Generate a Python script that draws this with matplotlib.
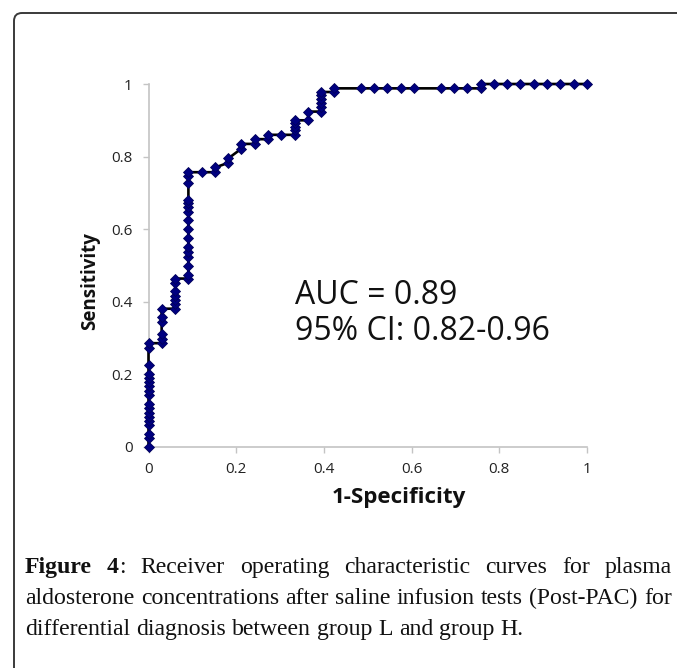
import matplotlib
matplotlib.use('Agg')
import matplotlib.pyplot as plt
from matplotlib.patches import FancyBboxPatch
from matplotlib.transforms import IdentityTransform

# ---------------- data ----------------
fpr = [0.000, 0.000, 0.000, 0.000, 0.000, 0.000, 0.000, 0.000, 0.000,
       0.000, 0.000, 0.000, 0.000, 0.000, 0.000, 0.000, 0.000, 0.000,
       0.030, 0.030, 0.030, 0.030, 0.030, 0.030,
       0.061, 0.061, 0.061, 0.061, 0.061, 0.061, 0.061,
       0.091, 0.091, 0.091, 0.091, 0.091, 0.091, 0.091, 0.091,
       0.091, 0.091, 0.091, 0.091, 0.091, 0.091, 0.091, 0.091,
       0.121,
       0.152, 0.152,
       0.182, 0.182,
       0.212, 0.212,
       0.242, 0.242,
       0.273, 0.273,
       0.303,
       0.333, 0.333, 0.333, 0.333, 0.333,
       0.364, 0.364,
       0.394, 0.394, 0.394, 0.394, 0.394, 0.394,
       0.424, 0.424,
       0.485, 0.515, 0.545, 0.576, 0.606, 0.667, 0.697, 0.727, 0.758,
       0.758, 0.788, 0.818, 0.848, 0.879, 0.909, 0.939, 0.970, 1.000]
tpr = [0.000, 0.024, 0.036, 0.060, 0.071, 0.083, 0.095, 0.107, 0.119,
       0.143, 0.155, 0.167, 0.179, 0.190, 0.202, 0.226, 0.274, 0.286,
       0.286, 0.298, 0.310, 0.345, 0.357, 0.381,
       0.381, 0.393, 0.405, 0.417, 0.429, 0.452, 0.464,
       0.464, 0.474, 0.500, 0.524, 0.536, 0.552, 0.575, 0.600,
       0.625, 0.648, 0.662, 0.671, 0.680, 0.726, 0.746, 0.757,
       0.757,
       0.757, 0.770,
       0.783, 0.795,
       0.822, 0.835,
       0.835, 0.848,
       0.848, 0.860,
       0.860,
       0.860, 0.872, 0.882, 0.892, 0.900,
       0.900, 0.924,
       0.924, 0.936, 0.948, 0.958, 0.970, 0.978,
       0.978, 0.988,
       0.988, 0.988, 0.988, 0.988, 0.988, 0.988, 0.988, 0.988, 0.988,
       1.000, 1.000, 1.000, 1.000, 1.000, 1.000, 1.000, 1.000, 1.000]

tick_values = [0, 0.2, 0.4, 0.6, 0.8, 1]
tick_labels = ['0', '0.2', '0.4', '0.6', '0.8', '1']

x_label = '1-Specificity'
y_label = 'Sensitivity'
auc_lines = ['AUC = 0.89', '95% CI: 0.82-0.96']

caption_lines = [
    [[('Figure', 'bold')], [('4', 'bold'), (':', 'normal')], [('Receiver', 'normal')],
     [('operating', 'normal')], [('characteristic', 'normal')], [('curves', 'normal')],
     [('for', 'normal')], [('plasma', 'normal')]],
    [[(w, 'normal')] for w in 'aldosterone concentrations after saline infusion tests (Post-PAC) for'.split()],
    [[(w, 'normal')] for w in 'differential diagnosis between group L and group H.'.split()],
]

# ---------------- figure ----------------
W, H = 677, 668
fig = plt.figure(figsize=(W / 100, H / 100), dpi=100)
fig.patch.set_facecolor('white')
renderer = fig.canvas.get_renderer()

def px(x, y):
    return x / W, 1 - y / H

def text_width(text, size, family, weight='normal'):
    t = fig.text(0, 0, text, fontsize=size, family=family, fontweight=weight)
    w = t.get_window_extent(renderer).width
    t.remove()
    return w

def fit_size(text, target, family, weight='normal'):
    return 12 * target / text_width(text, 12, family, weight)

chart_font = 'Open Sans'

# rounded frame (extends past right / bottom edges)
frame = FancyBboxPatch((14, -40), 720, H - 13 + 40,
                       boxstyle='round,pad=0,rounding_size=8',
                       transform=IdentityTransform(), facecolor='none',
                       edgecolor='#3a3a3a', linewidth=1.4)
fig.add_artist(frame)

x0, x1, y0, y1 = 148.5, 587, 447, 84
ax = fig.add_axes([x0 / W, 1 - y0 / H, (x1 - x0) / W, (y0 - y1) / H])
ax.set_facecolor('none')
ax.plot(fpr, tpr, color='black', linewidth=1.9, marker='D', markersize=4.6,
        markerfacecolor='#000080', markeredgecolor='#00005a', markeredgewidth=0.6,
        clip_on=False, zorder=3)
ax.set_xlim(0, 1)
ax.set_ylim(0, 1)
ax.set_xticks(tick_values)
ax.set_xticklabels(tick_labels)
ax.set_yticks(tick_values)
ax.set_yticklabels(tick_labels)
for s in ['top', 'right']:
    ax.spines[s].set_visible(False)
for s in ['left', 'bottom']:
    ax.spines[s].set_color('#c4c4c4')
    ax.spines[s].set_linewidth(1.2)
ax.tick_params(axis='both', direction='out', length=4.5, width=1.0, color='#c4c4c4',
               labelsize=11, labelcolor='#222222')
ax.tick_params(axis='x', pad=6)
ax.tick_params(axis='y', pad=7)
for lab in ax.get_xticklabels() + ax.get_yticklabels():
    lab.set_fontfamily(chart_font)

xs = fit_size(x_label, 134, chart_font, 'bold')
fig.text(*px(398.5, 497), x_label, ha='center', va='center', fontsize=xs,
         fontweight='bold', family=chart_font, color='#111111')
ys = fit_size(y_label, 98, chart_font, 'bold')
fig.text(*px(90, 281), y_label, ha='center', va='center', rotation=90,
         fontsize=ys, fontweight='bold', family=chart_font, color='#111111')
asz = fit_size(auc_lines[1], 255, chart_font)
fig.text(*px(295, 296), auc_lines[0], ha='left', va='center', fontsize=asz,
         family=chart_font, color='#111111')
fig.text(*px(295, 331), auc_lines[1], ha='left', va='center', fontsize=asz,
         family=chart_font, color='#111111')

# ---------------- justified caption ----------------
cap_left, cap_right = 25, 672
cap_baselines = [573, 604, 635]
cap_family = 'Liberation Serif'
line3_text = ' '.join(p[0][0] for p in caption_lines[2])
cap_size = fit_size(line3_text, 498, cap_family)

for li, words in enumerate(caption_lines):
    widths = [[text_width(t, cap_size, cap_family, wt) for t, wt in word] for word in words]
    word_w = [sum(w) for w in widths]
    space = text_width('a a', cap_size, cap_family) - 2 * text_width('a', cap_size, cap_family)
    if li < 2:
        gap = (cap_right - cap_left - sum(word_w)) / (len(words) - 1)
    else:
        gap = space
    x = cap_left
    for word, ws in zip(words, widths):
        xx = x
        for (t, wt), w in zip(word, ws):
            fig.text(*px(xx, cap_baselines[li]), t, ha='left', va='baseline',
                     fontsize=cap_size, family=cap_family, fontweight=wt, color='#111111')
            xx += w
        x = xx + gap

fig.savefig('out.png', dpi=100)
